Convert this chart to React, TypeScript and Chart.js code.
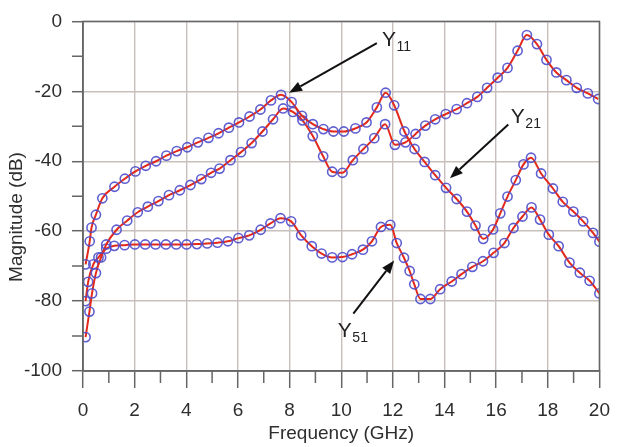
import React, { useEffect, useRef } from 'react';
import { Chart, registerables } from 'chart.js';

Chart.register(...registerables);

// ---- Data ----
const xMin = 0;
const xMax = 20;
const xStep = 2;
const yMin = -100;
const yMax = 0;
const yStep = 20;
const xMinorTicks = [1, 3, 5, 7, 9, 11, 13, 15, 17, 19];
const yMinorTicks = [-10, -30, -50, -70, -90];

const y11Freq = [0.1, 0.26, 0.33, 0.5, 0.75, 1.22, 1.62, 2.03, 2.43, 2.83, 3.23, 3.63, 4.04, 4.45, 4.86, 5.25, 5.65, 6.04, 6.45, 6.87, 7.28, 7.67, 8.08, 8.48, 8.9, 9.31, 9.7, 10.1, 10.55, 10.98, 11.38, 11.72, 12.05, 12.45, 12.84, 13.23, 13.64, 14.06, 14.47, 14.87, 15.2, 15.5, 15.88, 16.16, 16.44, 16.76, 17.06, 17.35, 17.74, 18.2, 18.58, 18.99, 19.37, 19.75, 20.0];
const y11Mag = [-69.5, -62.9, -59, -55.3, -50.6, -47.3, -45, -42.9, -41.3, -40, -38.4, -37.1, -36, -34.6, -33.3, -32, -30.4, -28.9, -27.2, -25.2, -22.6, -21, -23.1, -27, -29.4, -30.8, -31.5, -31.5, -30.6, -28.9, -24.6, -20.4, -24, -31.5, -36.5, -40.2, -44, -47.6, -50.8, -54.4, -58.4, -62.2, -59.5, -54.9, -50.1, -45.4, -40.9, -39, -43.5, -47.8, -51.6, -54.4, -57.2, -60.5, -63];

const y21Freq = [0.1, 0.25, 0.35, 0.5, 0.7, 0.9, 1.3, 1.71, 2.12, 2.51, 2.92, 3.33, 3.75, 4.16, 4.58, 4.96, 5.29, 5.71, 6.12, 6.53, 6.95, 7.36, 7.75, 8.13, 8.5, 8.9, 9.3, 9.65, 10.05, 10.45, 10.86, 11.28, 11.7, 12.08, 12.49, 12.88, 13.26, 13.64, 14.05, 14.47, 14.87, 15.27, 15.65, 16.06, 16.44, 16.83, 17.19, 17.58, 17.95, 18.33, 18.72, 19.12, 19.55, 19.95];
const y21Mag = [-90.3, -83, -77.8, -72, -67.5, -63.8, -59.6, -57, -54.6, -53, -51.4, -49.7, -48.3, -46.8, -45.1, -43.3, -42.1, -39.7, -37.4, -34.8, -31.5, -28, -24.9, -25.9, -28.3, -32.8, -38.6, -43, -43.3, -39.7, -36.5, -33.4, -29.4, -35.3, -34.6, -32.2, -29.8, -28, -26.5, -25.1, -23.4, -21.6, -19, -16.1, -13.3, -8.4, -3.9, -6.5, -11, -14.6, -16.8, -19, -20.6, -22.2];

const y51Freq = [0.1, 0.2, 0.4, 0.6, 0.9, 1.21, 1.61, 2.01, 2.41, 2.81, 3.21, 3.61, 4.01, 4.41, 4.81, 5.21, 5.61, 6.02, 6.44, 6.88, 7.26, 7.65, 8.06, 8.45, 8.86, 9.24, 9.65, 10.05, 10.42, 10.84, 11.19, 11.54, 11.9, 12.15, 12.43, 12.65, 12.83, 13.07, 13.45, 13.83, 14.28, 14.66, 15.08, 15.49, 15.9, 16.32, 16.67, 17.02, 17.37, 17.7, 18.04, 18.42, 18.84, 19.24, 19.62, 20.0];
const y51Mag = [-80, -74.5, -69.5, -67.5, -65, -64.2, -64, -63.8, -63.8, -63.8, -63.8, -63.8, -63.8, -63.7, -63.5, -63.3, -62.9, -62, -61.2, -59.6, -57.8, -56.3, -57.2, -61.2, -64.3, -66.4, -67.5, -67.4, -66.6, -65.3, -62.9, -58.8, -58.2, -63.4, -67.6, -71.4, -75.2, -79.4, -79.4, -76.6, -74.4, -72.3, -70.2, -68.6, -66.2, -63.4, -59.1, -55.8, -53.2, -56.7, -61, -64.3, -69, -71.9, -74.2, -77.8];

// Annotation labels with arrows (positions in data units: GHz, dB)
const annLabels = ['Y', 'Y', 'Y'];
const annSubs = ['11', '21', '51'];
const annTextF = [11.58, 16.57, 9.87];
const annTextDb = [-7.0, -29.2, -90.4];
const annTailF = [11.38, 16.47, 10.47];
const annTailDb = [-6.2, -29.5, -83.6];
const annTipF = [7.98, 14.21, 12.05];
const annTipDb = [-20.4, -44.9, -68.4];

const xTitle = 'Frequency (GHz)';
const yTitle = 'Magnitude (dB)';

// ---- Styles ----
const FONT = '"Liberation Sans", Arial, Helvetica, sans-serif';
const AXIS_COLOR = '#666666';
const GRID_COLOR = '#c6bfbc';
const TEXT_COLOR = '#2e2e2e';
const LINE_COLOR = '#e3291c';
const MARKER_COLOR = 'rgba(78, 78, 205, 0.9)';

function toPoints(fs: number[], ms: number[]) {
  return fs.map((f, i) => ({ x: f, y: ms[i] }));
}

const framePlugin = {
  id: 'frameAndMinorTicks',
  afterDraw(chart: any) {
    const { ctx, chartArea } = chart;
    const xs = chart.scales.x;
    const ys = chart.scales.y;
    ctx.save();
    ctx.strokeStyle = AXIS_COLOR;
    ctx.lineWidth = 1.5;
    ctx.strokeRect(chartArea.left, chartArea.top, chartArea.right - chartArea.left, chartArea.bottom - chartArea.top);
    ctx.beginPath();
    xMinorTicks.forEach((v) => {
      const px = xs.getPixelForValue(v);
      ctx.moveTo(px, chartArea.bottom);
      ctx.lineTo(px, chartArea.bottom + 12);
    });
    yMinorTicks.forEach((v) => {
      const py = ys.getPixelForValue(v);
      ctx.moveTo(chartArea.left - 11, py);
      ctx.lineTo(chartArea.left, py);
    });
    ctx.stroke();

    // y axis title
    ctx.fillStyle = TEXT_COLOR;
    ctx.font = `19px ${FONT}`;
    ctx.textAlign = 'center';
    ctx.textBaseline = 'middle';
    ctx.translate(17, 217);
    ctx.rotate(-Math.PI / 2);
    ctx.fillText(yTitle, 0, 0);
    ctx.restore();

    // annotations
    ctx.save();
    for (let i = 0; i < annLabels.length; i++) {
      const tx = xs.getPixelForValue(annTailF[i]);
      const ty = ys.getPixelForValue(annTailDb[i]);
      const hx = xs.getPixelForValue(annTipF[i]);
      const hy = ys.getPixelForValue(annTipDb[i]);
      const ang = Math.atan2(hy - ty, hx - tx);
      const headLen = 13;
      const headHalf = 5;
      const bx = hx - headLen * Math.cos(ang);
      const by = hy - headLen * Math.sin(ang);
      ctx.strokeStyle = '#111';
      ctx.fillStyle = '#111';
      ctx.lineWidth = 2;
      ctx.beginPath();
      ctx.moveTo(tx, ty);
      ctx.lineTo(bx, by);
      ctx.stroke();
      ctx.beginPath();
      ctx.moveTo(hx, hy);
      ctx.lineTo(bx + headHalf * Math.sin(ang), by - headHalf * Math.cos(ang));
      ctx.lineTo(bx - headHalf * Math.sin(ang), by + headHalf * Math.cos(ang));
      ctx.closePath();
      ctx.fill();

      const lx = xs.getPixelForValue(annTextF[i]);
      const ly = ys.getPixelForValue(annTextDb[i]);
      ctx.fillStyle = '#222';
      ctx.textAlign = 'left';
      ctx.textBaseline = 'alphabetic';
      ctx.font = `21px ${FONT}`;
      ctx.fillText(annLabels[i], lx, ly);
      const w = ctx.measureText(annLabels[i]).width;
      ctx.font = `14px ${FONT}`;
      ctx.fillText(annSubs[i], lx + w + 0.5, ly + 5);
    }
    ctx.restore();
  },
};

export default function App() {
  const canvasRef = useRef<HTMLCanvasElement | null>(null);

  useEffect(() => {
    document.body.style.margin = '0';
    const canvas = canvasRef.current;
    if (!canvas) return;
    const seriesStyle = {
      borderColor: LINE_COLOR,
      borderWidth: 2,
      backgroundColor: 'rgba(0,0,0,0)',
      pointRadius: 4.6,
      pointBorderWidth: 1.6,
      pointBorderColor: MARKER_COLOR,
      pointBackgroundColor: 'rgba(0,0,0,0)',
      cubicInterpolationMode: 'monotone' as const,
      fill: false,
    };
    const chart = new Chart(canvas, {
      type: 'line',
      data: {
        datasets: [
          { label: 'Y11', data: toPoints(y11Freq, y11Mag), ...seriesStyle },
          { label: 'Y21', data: toPoints(y21Freq, y21Mag), ...seriesStyle },
          { label: 'Y51', data: toPoints(y51Freq, y51Mag), ...seriesStyle },
        ],
      },
      options: {
        responsive: false,
        animation: false,
        devicePixelRatio: 1,
        layout: { padding: { left: 0, right: 15, top: 18, bottom: 0 } },
        plugins: {
          legend: { display: false },
          tooltip: { enabled: false },
        },
        scales: {
          x: {
            type: 'linear',
            min: xMin,
            max: xMax,
            afterFit: (s: any) => {
              s.height = 76;
            },
            grid: {
              color: GRID_COLOR,
              lineWidth: 1.4,
              drawTicks: true,
              tickLength: 17,
              tickColor: AXIS_COLOR,
              tickWidth: 1.5,
            },
            border: { display: true, color: AXIS_COLOR, width: 1.5 },
            ticks: {
              stepSize: xStep,
              padding: 11,
              color: TEXT_COLOR,
              font: { size: 19, family: FONT },
              maxRotation: 0,
              autoSkip: false,
            },
            title: {
              display: true,
              text: xTitle,
              color: TEXT_COLOR,
              font: { size: 19, family: FONT },
              padding: { top: 0, bottom: 2 },
            },
          },
          y: {
            type: 'linear',
            min: yMin,
            max: yMax,
            afterFit: (s: any) => {
              s.width = 83;
            },
            grid: {
              color: GRID_COLOR,
              lineWidth: 1.4,
              drawTicks: true,
              tickLength: 11,
              tickColor: AXIS_COLOR,
              tickWidth: 1.5,
            },
            border: { display: true, color: AXIS_COLOR, width: 1.5 },
            ticks: {
              stepSize: yStep,
              padding: 10,
              color: TEXT_COLOR,
              font: { size: 19, family: FONT },
            },
            title: { display: false, text: yTitle },
          },
        },
      },
      plugins: [framePlugin],
    });
    return () => chart.destroy();
  }, []);

  return (
    <div style={{ width: 621, height: 447, position: 'relative', background: '#fff' }}>
      <canvas ref={canvasRef} width={621} height={447} style={{ display: 'block' }} />
    </div>
  );
}
